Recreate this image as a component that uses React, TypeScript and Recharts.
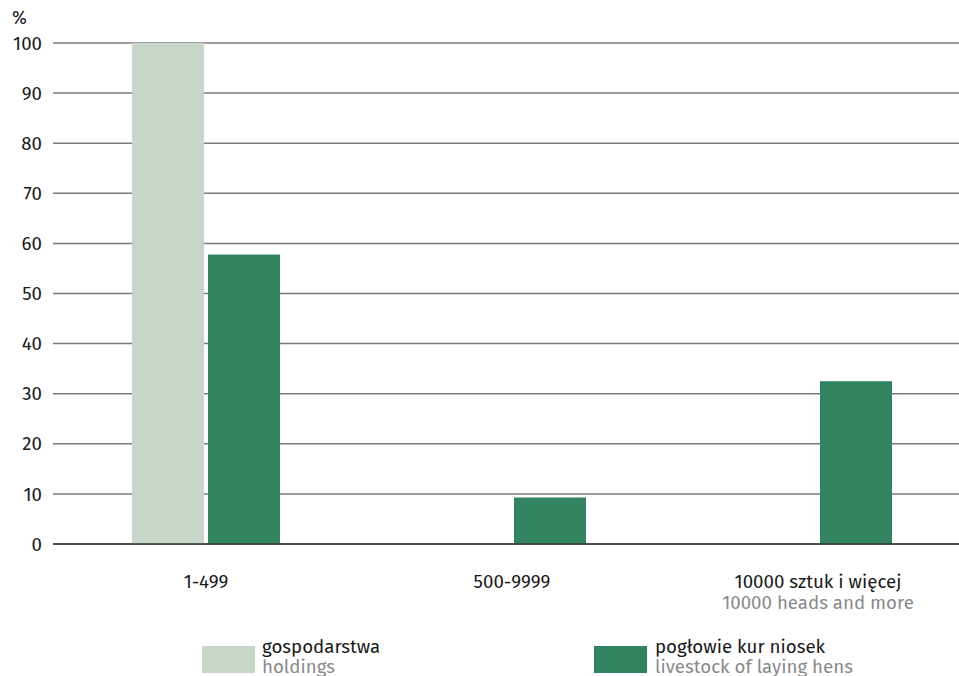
import React from 'react';
import { BarChart, Bar, XAxis, YAxis, CartesianGrid } from 'recharts';

const FONT = '"Fira Sans", "Noto Sans", sans-serif';

const LIGHT = '#c6d6c9';
const DARK = '#328460';

// kategorie / categories
const categoriesPl = ['1-499', '500-9999', '10000 sztuk i więcej'];
const categoriesEn = ['', '', '10000 heads and more'];

// odsetek w % / share in %
const holdings = [100, 0, 0];
const layingHens = [57.8, 9.3, 32.5];

const yTicks = [0, 10, 20, 30, 40, 50, 60, 70, 80, 90, 100];

const legendItems = [
  { pl: 'gospodarstwa', en: 'holdings', color: LIGHT, x: 202, textX: 262 },
  { pl: 'pogłowie kur niosek', en: 'livestock of laying hens', color: DARK, x: 594, textX: 655 },
];

const data = categoriesPl.map((name, i) => ({
  name,
  holdings: holdings[i],
  hens: layingHens[i],
}));

const CategoryTick = ({ x, y, payload, index }: any) => {
  const en = categoriesEn[index];
  return (
    <g transform={`translate(${x},${y})`}>
      <text x={0} y={36} textAnchor="middle" fontSize={18.7} fontFamily={FONT} fill="#1a1a1a">
        {payload.value}
      </text>
      {en && (
        <text x={0} y={56.5} textAnchor="middle" fontSize={18.7} fontFamily={FONT} fill="#8a8a8a">
          {en}
        </text>
      )}
    </g>
  );
};

export default function App() {
  return (
    <div
      style={{
        position: 'fixed',
        left: 0,
        top: 0,
        width: 959,
        height: 676,
        overflow: 'hidden',
        background: '#fff',
        fontFamily: FONT,
      }}
    >
      <div style={{ position: 'absolute', left: 12, top: 7, fontSize: 18, color: '#1a1a1a' }}>%</div>
      <BarChart
        width={975}
        height={676}
        data={data}
        margin={{ top: 43, right: 4, bottom: 0, left: 0 }}
        barSize={72}
        barGap={4}
      >
        <CartesianGrid vertical={false} stroke="#7a7a7a" strokeWidth={1.5} />
        <XAxis
          dataKey="name"
          axisLine={{ stroke: '#333', strokeWidth: 1.5 }}
          tickLine={false}
          tick={<CategoryTick />}
          interval={0}
          height={132}
        />
        <YAxis
          width={53}
          domain={[0, 100]}
          ticks={yTicks}
          axisLine={false}
          tickLine={false}
          tickMargin={5}
          tick={{ fontSize: 18.7, fontFamily: FONT, fill: '#1a1a1a' }}
        />
        <Bar dataKey="holdings" fill={LIGHT} isAnimationActive={false} />
        <Bar dataKey="hens" fill={DARK} isAnimationActive={false} />
      </BarChart>
      {legendItems.map((item) => (
        <React.Fragment key={item.pl}>
          <div
            style={{
              position: 'absolute',
              left: item.x,
              top: 646,
              width: 53,
              height: 27,
              background: item.color,
            }}
          />
          <div
            style={{
              position: 'absolute',
              left: item.textX,
              top: 637,
              fontSize: 18.7,
              lineHeight: '20px',
              whiteSpace: 'nowrap',
            }}
          >
            <div style={{ color: '#1a1a1a' }}>{item.pl}</div>
            <div style={{ color: '#8a8a8a' }}>{item.en}</div>
          </div>
        </React.Fragment>
      ))}
    </div>
  );
}
